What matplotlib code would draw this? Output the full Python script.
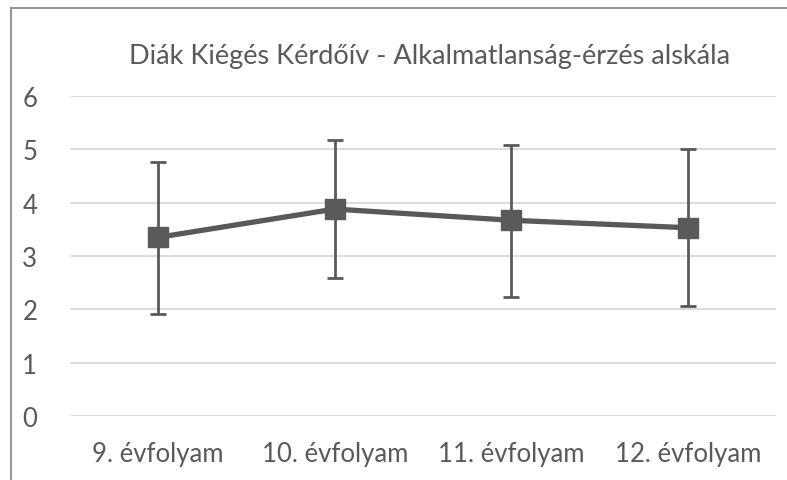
import matplotlib.pyplot as plt
from matplotlib.lines import Line2D

categories = ['9. évfolyam', '10. évfolyam', '11. évfolyam', '12. évfolyam']
means = [3.35, 3.88, 3.67, 3.53]
err_low = [1.92, 2.58, 2.23, 2.07]
err_high = [4.76, 5.17, 5.09, 5.0]
y_ticks = [0, 1, 2, 3, 4, 5, 6]

text_col = '#595959'
plt.rcParams['font.family'] = ['Lato', 'DejaVu Sans']

fig = plt.figure(figsize=(7.87, 4.81), dpi=100)
ax = fig.add_axes([70 / 787, 1 - 417 / 481, 706 / 787, 320 / 481])

x = list(range(len(categories)))
lower = [m - lo for m, lo in zip(means, err_low)]
upper = [hi - m for m, hi in zip(means, err_high)]
ax.errorbar(x, means, yerr=[lower, upper], color=text_col, linewidth=3.8,
            marker='s', markersize=14, ecolor=text_col, elinewidth=2,
            capsize=6, capthick=2, zorder=3)

ax.set_xlim(-0.5, len(categories) - 0.5)
ax.set_ylim(0, 6)
ax.set_yticks(y_ticks)
ax.set_yticklabels([str(t) for t in y_ticks])
ax.set_xticks(x)
ax.set_xticklabels(categories)
ax.grid(axis='y', color='#d9d9d9', linewidth=1.3)
ax.set_axisbelow(True)
for s in ax.spines.values():
    s.set_visible(False)
ax.tick_params(length=0, labelsize=18.5, colors=text_col)
ax.tick_params(axis='y', pad=29)
ax.tick_params(axis='x', pad=18)
for lbl in ax.get_yticklabels():
    lbl.set_horizontalalignment('center')

fig.text(430 / 787, 1 - 57 / 481, 'Diák Kiégés Kérdőív - Alkalmatlanság-érzés alskála',
         ha='center', va='center', fontsize=19.5, color=text_col)

# chart frame, cropped at right and bottom
bx, by = 11 / 787, 1 - 9 / 481
fig.add_artist(Line2D([bx, bx], [by, -0.01], transform=fig.transFigure, color='#8c8c8c', linewidth=1.3))
fig.add_artist(Line2D([bx, 1.01], [by, by], transform=fig.transFigure, color='#8c8c8c', linewidth=1.3))

fig.savefig('out.png', dpi=100)
